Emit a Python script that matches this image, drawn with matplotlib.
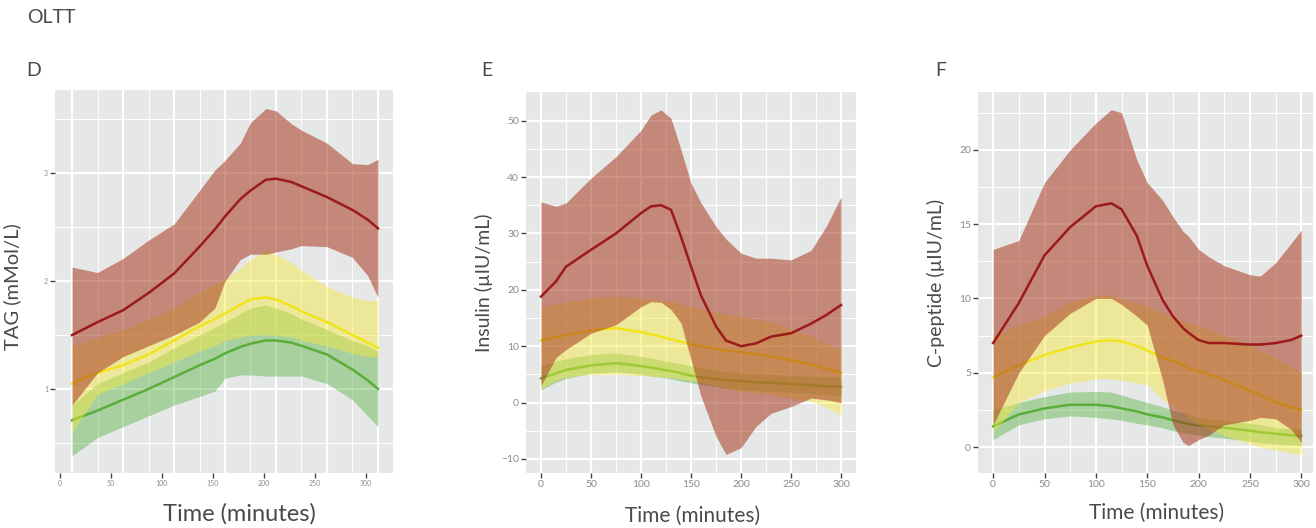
import matplotlib
matplotlib.use("Agg")
import matplotlib.pyplot as plt
import numpy as np

plt.rcParams['font.family'] = ['Lato', 'DejaVu Sans']

# ---- panel D : TAG ----
t_d = [0, 25, 50, 75, 100, 125, 140, 150, 165, 175, 190, 200, 215, 225, 250, 275, 290, 300]
tag_red_hi = [2.13, 2.08, 2.21, 2.38, 2.53, 2.84, 3.03, 3.12, 3.28, 3.47, 3.60, 3.58, 3.46, 3.40, 3.28, 3.09, 3.08, 3.13]
tag_red = [1.50, 1.62, 1.73, 1.89, 2.07, 2.32, 2.48, 2.60, 2.76, 2.84, 2.94, 2.95, 2.92, 2.88, 2.78, 2.66, 2.57, 2.49]
tag_red_lo = [0.85, 1.15, 1.30, 1.40, 1.50, 1.62, 1.75, 2.00, 2.20, 2.25, 2.25, 2.27, 2.30, 2.33, 2.32, 2.22, 2.05, 1.85]
tag_yel_hi = [1.40, 1.48, 1.55, 1.65, 1.75, 1.90, 1.97, 2.02, 2.12, 2.20, 2.28, 2.25, 2.17, 2.10, 1.95, 1.85, 1.82, 1.82]
tag_yel = [1.05, 1.15, 1.22, 1.32, 1.45, 1.58, 1.65, 1.70, 1.78, 1.83, 1.85, 1.83, 1.77, 1.72, 1.62, 1.50, 1.43, 1.38]
tag_yel_lo = [0.60, 0.95, 1.05, 1.15, 1.25, 1.35, 1.40, 1.45, 1.48, 1.50, 1.50, 1.50, 1.48, 1.45, 1.40, 1.33, 1.30, 1.30]
tag_grn_hi = [0.85, 1.05, 1.15, 1.25, 1.38, 1.50, 1.57, 1.62, 1.70, 1.75, 1.78, 1.75, 1.70, 1.65, 1.55, 1.45, 1.40, 1.35]
tag_grn = [0.71, 0.80, 0.90, 1.00, 1.11, 1.22, 1.28, 1.33, 1.39, 1.42, 1.45, 1.45, 1.43, 1.40, 1.32, 1.18, 1.08, 1.00]
tag_grn_lo = [0.38, 0.55, 0.65, 0.75, 0.85, 0.93, 0.98, 1.10, 1.13, 1.13, 1.12, 1.12, 1.12, 1.12, 1.05, 0.90, 0.75, 0.65]

# ---- panel E : insulin ----
t_e = [0, 15, 25, 50, 75, 100, 110, 120, 130, 140, 150, 160, 175, 185, 200, 215, 230, 250, 270, 285, 300]
ins_red_hi = [35.6, 34.8, 35.4, 39.8, 43.6, 48.3, 51.0, 51.9, 50.4, 44.8, 38.9, 35.4, 31.2, 29.0, 26.5, 25.6, 25.6, 25.3, 27.0, 31.2, 36.5]
ins_red = [18.8, 21.5, 24.1, 27.1, 30.0, 33.6, 34.8, 35.0, 34.2, 29.4, 24.1, 19.0, 13.5, 11.0, 10.0, 10.5, 11.7, 12.3, 14.0, 15.5, 17.3]
ins_red_lo = [3.0, 8.0, 9.4, 12.3, 13.8, 17.0, 17.9, 17.8, 16.5, 14.1, 7.6, 1.1, -6.0, -9.2, -8.0, -4.2, -1.9, -0.7, 0.8, 0.5, 0.0]
ins_yel_hi = [17.0, 17.5, 17.8, 18.5, 18.8, 18.5, 18.3, 18.2, 18.0, 17.5, 17.0, 16.6, 16.0, 15.7, 15.3, 14.8, 14.3, 13.0, 11.8, 10.5, 9.5]
ins_yel = [11.0, 11.6, 12.0, 12.8, 13.2, 12.5, 12.1, 11.7, 11.2, 10.8, 10.3, 10.0, 9.5, 9.2, 9.0, 8.6, 8.2, 7.5, 6.8, 6.0, 5.3]
ins_yel_lo = [2.5, 4.0, 4.5, 5.0, 5.0, 4.8, 4.7, 4.6, 4.4, 4.2, 4.0, 3.6, 3.0, 2.6, 2.0, 1.7, 1.4, 0.8, 0.2, -0.8, -2.2]
ins_grn_hi = [6.5, 7.3, 7.8, 8.5, 8.8, 8.2, 7.9, 7.5, 7.2, 6.9, 6.5, 6.2, 5.8, 5.5, 5.2, 5.1, 5.0, 4.8, 4.7, 4.6, 4.5]
ins_grn = [4.3, 5.2, 5.8, 6.6, 7.0, 6.5, 6.2, 5.9, 5.6, 5.2, 4.8, 4.5, 4.2, 4.0, 3.8, 3.6, 3.5, 3.3, 3.1, 2.9, 2.8]
ins_grn_lo = [2.3, 3.6, 4.3, 5.2, 5.5, 5.0, 4.7, 4.5, 4.2, 3.8, 3.5, 3.2, 2.8, 2.5, 2.3, 2.1, 2.0, 1.8, 1.6, 1.4, 1.2]

# ---- panel F : C-peptide ----
t_f = [0, 25, 50, 75, 100, 115, 125, 140, 150, 165, 175, 185, 190, 200, 210, 225, 250, 260, 275, 290, 300]
cp_red_hi = [13.3, 13.9, 17.8, 20.0, 21.8, 22.7, 22.5, 19.3, 17.8, 16.6, 15.5, 14.5, 14.2, 13.3, 12.8, 12.2, 11.6, 11.5, 12.4, 13.7, 14.6]
cp_red = [7.0, 9.7, 12.9, 14.8, 16.2, 16.4, 16.0, 14.2, 12.2, 9.9, 8.8, 8.0, 7.7, 7.2, 7.0, 7.0, 6.9, 6.9, 7.0, 7.2, 7.5]
cp_red_lo = [1.5, 5.0, 7.5, 9.0, 10.0, 10.0, 9.6, 8.8, 8.2, 4.5, 1.5, 0.3, 0.1, 0.5, 0.8, 1.5, 1.8, 2.0, 1.9, 1.2, 0.3]
cp_yel_hi = [7.5, 8.2, 8.8, 9.8, 10.2, 10.2, 10.0, 9.7, 9.5, 9.0, 8.8, 8.5, 8.4, 8.2, 7.9, 7.5, 6.8, 6.5, 6.0, 5.4, 5.0]
cp_yel = [4.7, 5.5, 6.2, 6.7, 7.1, 7.2, 7.1, 6.8, 6.5, 6.0, 5.8, 5.5, 5.3, 5.1, 4.9, 4.5, 3.8, 3.5, 3.0, 2.7, 2.5]
cp_yel_lo = [1.0, 3.0, 3.8, 4.3, 4.6, 4.6, 4.5, 4.3, 4.2, 3.2, 2.8, 2.3, 2.0, 1.5, 1.2, 0.8, 0.2, 0.0, -0.2, -0.4, -0.5]
cp_grn_hi = [2.5, 3.0, 3.4, 3.7, 3.75, 3.7, 3.5, 3.2, 3.0, 2.7, 2.5, 2.3, 2.2, 2.0, 1.9, 1.8, 1.6, 1.5, 1.3, 1.25, 1.2]
cp_grn = [1.4, 2.2, 2.6, 2.85, 2.85, 2.75, 2.6, 2.4, 2.2, 2.0, 1.8, 1.65, 1.55, 1.45, 1.4, 1.3, 1.1, 1.0, 0.9, 0.8, 0.75]
cp_grn_lo = [0.5, 1.5, 1.9, 2.1, 2.0, 1.9, 1.8, 1.6, 1.5, 1.3, 1.1, 0.95, 0.9, 0.8, 0.7, 0.6, 0.4, 0.3, 0.2, 0.15, 0.1]

x_ticks = [0, 50, 100, 150, 200, 250, 300]

BG = '#E6E7E7'
TXT = '#4a4a4a'
COLS = {'grn': ('#5DB548', '#5AAE38'),
        'yel': ('#F7EA3A', '#F2E31C'),
        'red': ('#A73A1F', '#9C1A1A')}


def draw_groups(ax, t, groups):
    # green first, red last: each ribbon covers the groups drawn before it
    for i, (key, lo, mid, hi, a) in enumerate(groups):
        fill, line = COLS[key]
        ax.fill_between(t, lo, hi, color=fill, alpha=a, lw=0, zorder=1 + 2 * i)
        ax.plot(t, mid, color=line, lw=1.8, zorder=2 + 2 * i)


def style(ax, ylabel, ylab_fs, xlab_fs, tick_fs, ylab_xy, xlab_xy):
    ax.set_facecolor(BG)
    for s in ax.spines.values():
        s.set_visible(False)
    ax.tick_params(which='major', length=3.5, width=1.0, color='#444444',
                   labelsize=tick_fs, labelcolor='#8a8a8a', pad=1.5)
    ax.tick_params(which='minor', length=0)
    ax.set_ylabel(ylabel, fontsize=ylab_fs, color=TXT)
    ax.set_xlabel('Time (minutes)', fontsize=xlab_fs, color=TXT)
    ax.yaxis.set_label_coords(*ylab_xy)
    ax.xaxis.set_label_coords(*xlab_xy)


fig = plt.figure(figsize=(13.16, 5.28), dpi=100)

# panel D
axD = fig.add_axes([0.0418, 0.104, 0.2568, 0.725])
draw_groups(axD, t_d, [
    ('grn', tag_grn_lo, tag_grn, tag_grn_hi, 0.45),
    ('yel', tag_yel_lo, tag_yel, tag_yel_hi, 0.45),
    ('red', tag_red_lo, tag_red, tag_red_hi, 0.55)])
axD.set_xlim(-16.7, 314.7)
axD.set_ylim(0.22, 3.77)
axD.set_yticks([1, 2, 3])
axD.set_yticks([0.5, 1.5, 2.5, 3.5], minor=True)
axD.grid(axis='y', which='major', color='white', lw=1.5, zorder=0.5)
axD.grid(axis='y', which='minor', color='white', lw=0.7, zorder=0.5)
for g in np.arange(0, 301, 50):
    axD.axvline(g, color='white', lw=1.5, zorder=0.5)
for g in np.arange(25, 300, 50):
    axD.axvline(g, color='white', lw=0.7, zorder=0.5)
# tick labels in this panel sit slightly left of the grid
axD.set_xticks(np.array(x_ticks) - 12, [str(v) for v in x_ticks])
style(axD, 'TAG (mMol/L)', 14.5, 17, 5, (-0.1, 0.486), (0.547, -0.078))

# panel E
axE = fig.add_axes([0.3997, 0.104, 0.2508, 0.722])
draw_groups(axE, t_e, [
    ('grn', ins_grn_lo, ins_grn, ins_grn_hi, 0.45),
    ('yel', ins_yel_lo, ins_yel, ins_yel_hi, 0.45),
    ('red', ins_red_lo, ins_red, ins_red_hi, 0.55)])
axE.set_xlim(-15, 315)
axE.set_ylim(-12.5, 55.1)
axE.set_xticks(x_ticks)
axE.set_xticks(np.arange(25, 300, 50), minor=True)
axE.set_yticks([-10, 0, 10, 20, 30, 40, 50])
axE.set_yticks([-5, 5, 15, 25, 35, 45], minor=True)
axE.grid(which='major', color='white', lw=1.5, zorder=0.5)
axE.grid(which='minor', color='white', lw=0.7, zorder=0.5)
style(axE, 'Insulin (µIU/mL)', 14, 15, 7.5, (-0.1, 0.5), (0.506, -0.085))

# panel F
axF = fig.add_axes([0.7432, 0.104, 0.2546, 0.722])
draw_groups(axF, t_f, [
    ('grn', cp_grn_lo, cp_grn, cp_grn_hi, 0.45),
    ('yel', cp_yel_lo, cp_yel, cp_yel_hi, 0.45),
    ('red', cp_red_lo, cp_red, cp_red_hi, 0.55)])
axF.set_xlim(-14.7, 311.5)
axF.set_ylim(-1.75, 23.9)
axF.set_xticks(x_ticks)
axF.set_xticks(np.arange(25, 300, 50), minor=True)
axF.set_yticks([0, 5, 10, 15, 20])
axF.set_yticks([2.5, 7.5, 12.5, 17.5, 22.5], minor=True)
axF.grid(which='major', color='white', lw=1.5, zorder=0.5)
axF.grid(which='minor', color='white', lw=0.7, zorder=0.5)
style(axF, 'C-peptide (µIU/mL)', 14, 15, 7.5, (-0.098, 0.5), (0.534, -0.078))

for ax in (axD, axE, axF):
    ax.set_axisbelow(True)

fig.text(0.0205, 0.966, 'OLTT', fontsize=14, color=TXT, va='center')
fig.text(0.0198, 0.867, 'D', fontsize=14, color=TXT, va='center')
fig.text(0.366, 0.867, 'E', fontsize=14, color=TXT, va='center')
fig.text(0.7105, 0.867, 'F', fontsize=14, color=TXT, va='center')

fig.savefig('out.png', dpi=100, facecolor='white')
